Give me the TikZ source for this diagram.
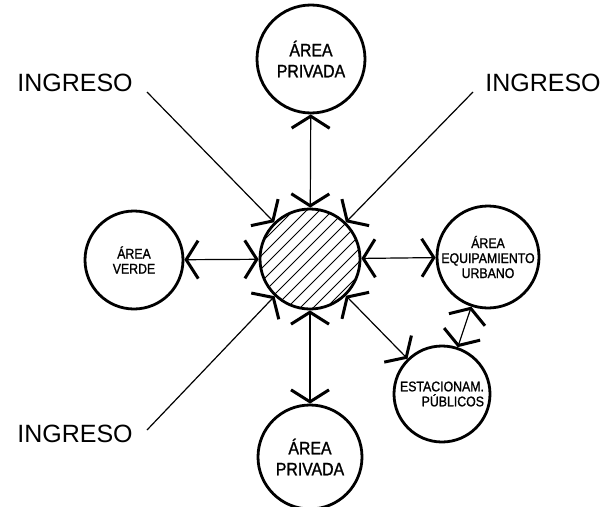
\documentclass[tikz,border=0pt]{standalone}
\usepackage{fontspec}
\setmainfont{Liberation Sans}
\newfontfamily\cadfont[FakeStretch=0.88, FakeBold=1.2]{Liberation Sans}
\usetikzlibrary{arrows.meta}
\tikzstyle{zone} = [circle, draw=black, line width=2.8pt, inner sep=0pt]
\tikzstyle{bigtext} = [align=center, font=\cadfont\fontsize{18}{21}\selectfont]
\tikzstyle{smalltext} = [align=center, font=\cadfont\fontsize{14}{15}\selectfont]
\tikzstyle{entrytext} = [font=\fontsize{25}{27}\selectfont]
\tikzstyle{link} = [line width=1.2pt, {Straight Barb[length=12pt,width=38pt,line width=3pt]}-{Straight Barb[length=12pt,width=38pt,line width=3pt]}]
\tikzstyle{entry} = [line width=1.2pt, -{Straight Barb[length=12pt,width=38pt,line width=3pt]}]
\begin{document}
\begin{tikzpicture}[x=1pt, y=-1pt]
\useasboundingbox (0,0) rectangle (605,506);

% hatching of the central plaza
\begin{scope}
\clip (310,259) circle (50pt);
\foreach \i in {-130,-117,...,130}
  \draw [line width=0.8pt] (310+\i-70,259+70) -- (310+\i+70,259-70);
\end{scope}

\node (hub) [zone, minimum size=100pt] at (310,259) {};
\node (privN) [zone, minimum size=108pt, label={[bigtext]center:ÁREA\\PRIVADA}] at (311,59) {};
\node (privS) [zone, minimum size=104pt, label={[bigtext]center:ÁREA\\PRIVADA}] at (310,457) {};
\node (verde) [zone, minimum size=98pt, label={[smalltext]center:ÁREA\\VERDE}] at (134,260) {};
\node (equip) [zone, minimum size=102pt, label={[smalltext]center:ÁREA\\EQUIPAMIENTO\\URBANO}] at (488,257) {};
\node (estac) [zone, minimum size=96pt, label={[smalltext, align=right]center:ESTACIONAM.\\PÚBLICOS}] at (442,394) {};

\node (ingNW) [entrytext] at (75,83) {INGRESO};
\node (ingNE) [entrytext] at (543,83) {INGRESO};
\node (ingSW) [entrytext] at (75,434) {INGRESO};
\coordinate (nw) at (147,92);
\coordinate (ne) at (473,92);
\coordinate (sw) at (147,430);

\draw [link] (hub) -- (privN);
\draw [link] (hub) -- (privS);
\draw [link] (hub) -- (verde);
\draw [link] (hub) -- (equip);
\draw [link] (hub) -- (estac);
\draw [link] (estac) -- (equip);
\draw [entry] (nw) -- (hub);
\draw [entry] (ne) -- (hub);
\draw [entry] (sw) -- (hub);

\end{tikzpicture}
\end{document}
